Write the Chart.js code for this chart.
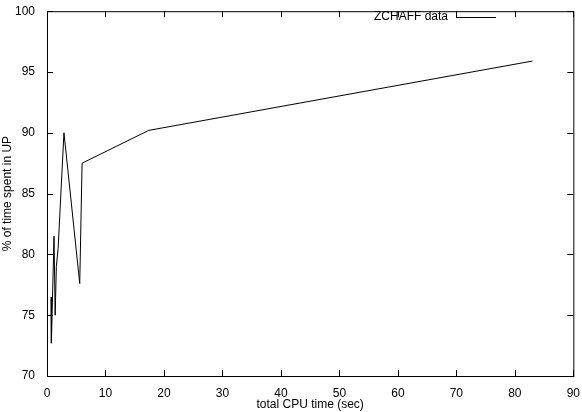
<!DOCTYPE html>
<html>
<head>
<script src="https://cdn.jsdelivr.net/npm/chart.js@4"></script>
<style>body{margin:0;background:#fff}#wrap{width:582px;height:412px}</style>
</head>
<body>
<div id="wrap"><canvas id="c"></canvas></div>
<script>
const xValues = [0.7, 0.75, 1.2, 1.4, 1.6, 1.9, 2.9, 5.6, 6.0, 17.4, 83];
const yValues = [76.5, 72.7, 81.5, 75, 79, 80.5, 90, 77.6, 87.5, 90.2, 95.9];
const seriesLabel = 'ZCHAFF data';

const points = xValues.map((x, i) => ({ x: x, y: yValues[i] }));

// gnuplot-style inward ticks on all sides + legend
const frame = {
  id: 'frame',
  afterDraw(chart) {
    const { ctx, chartArea: a, scales } = chart;
    ctx.save();
    ctx.strokeStyle = '#000';
    ctx.lineWidth = 1;
    ctx.beginPath();
    scales.x.ticks.forEach(t => {
      const px = Math.round(scales.x.getPixelForValue(t.value)) + 0.5;
      ctx.moveTo(px, a.bottom); ctx.lineTo(px, a.bottom - 6);
      ctx.moveTo(px, a.top); ctx.lineTo(px, a.top + 6);
    });
    scales.y.ticks.forEach(t => {
      const py = Math.round(scales.y.getPixelForValue(t.value)) + 0.5;
      ctx.moveTo(a.left, py); ctx.lineTo(a.left + 6, py);
      ctx.moveTo(a.right, py); ctx.lineTo(a.right - 6, py);
    });
    ctx.stroke();
    ctx.strokeRect(a.left + 0.5, a.top + 0.5, a.right - a.left, a.bottom - a.top);
    ctx.font = '12px "Liberation Sans", Arial, sans-serif';
    ctx.fillStyle = '#000';
    ctx.textAlign = 'right';
    ctx.textBaseline = 'middle';
    ctx.fillText(seriesLabel, 448, 17);
    ctx.beginPath();
    ctx.moveTo(456, 17.5); ctx.lineTo(496, 17.5);
    ctx.stroke();
    ctx.restore();
  }
};

new Chart(document.getElementById('c'), {
  type: 'scatter',
  data: {
    datasets: [{
      label: seriesLabel,
      data: points,
      showLine: true,
      borderColor: '#000',
      borderWidth: 1,
      pointRadius: 0,
      tension: 0
    }]
  },
  options: {
    responsive: true,
    maintainAspectRatio: false,
    animation: false,
    layout: { padding: { top: 0, right: 6, left: 0, bottom: 0 } },
    plugins: { legend: { display: false }, tooltip: { enabled: false } },
    scales: {
      x: {
        min: 0, max: 90,
        ticks: { stepSize: 10, color: '#000', padding: 2, maxRotation: 0,
          font: { family: '"Liberation Sans", Arial, sans-serif', size: 12 } },
        grid: { display: false },
        border: { display: false },
        title: { display: true, text: 'total CPU time (sec)', color: '#000', padding: 0,
          font: { family: '"Liberation Sans", Arial, sans-serif', size: 12 } },
        afterFit(s) { s.height = 36; }
      },
      y: {
        min: 70, max: 100,
        ticks: { stepSize: 5, color: '#000', padding: 4,
          font: { family: '"Liberation Sans", Arial, sans-serif', size: 12 } },
        grid: { display: false },
        border: { display: false },
        title: { display: true, text: '% of time spent in UP', color: '#000', padding: 0,
          font: { family: '"Liberation Sans", Arial, sans-serif', size: 12 } },
        afterFit(s) { s.width = 47; }
      }
    }
  },
  plugins: [frame]
});
</script>
</body>
</html>
